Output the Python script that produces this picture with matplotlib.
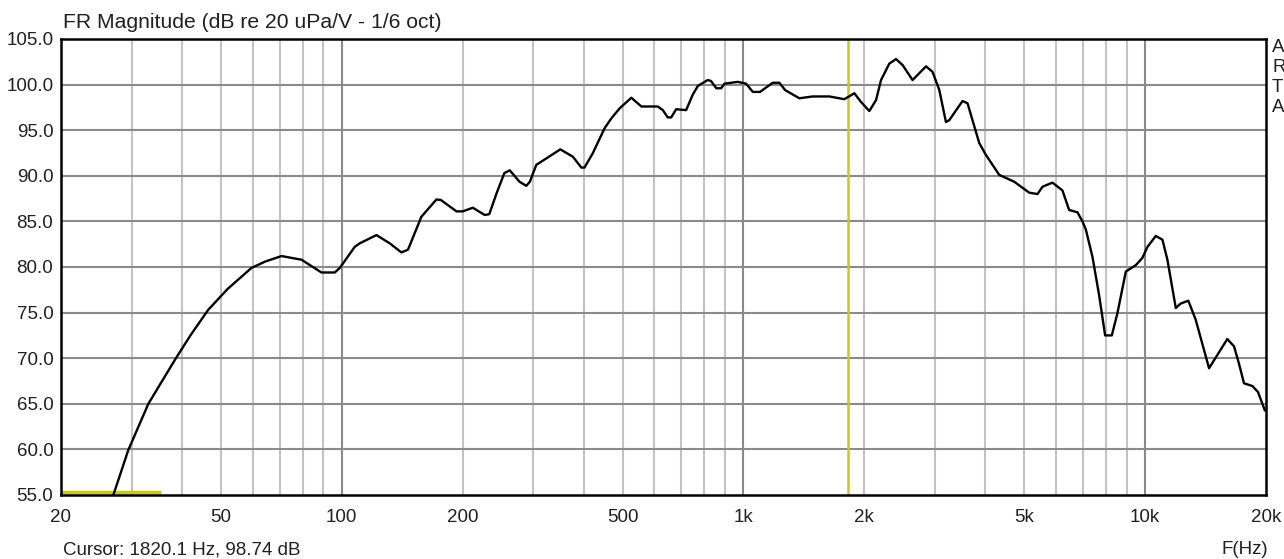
import numpy as np
import matplotlib
matplotlib.use("Agg")
import matplotlib.pyplot as plt
from matplotlib.ticker import FixedLocator, NullLocator

plt.rcParams['font.family'] = ['Liberation Sans', 'DejaVu Sans']

# FR magnitude (Hz, dB)
freq = [27.0, 29.4, 33.0, 38.4, 42.0, 46.5, 52.0, 59.6, 64.5, 70.8, 79.4, 89.0, 96.1, 98.9,
        107.7, 110.9, 122, 131.6, 140.8, 146.2, 157.8, 172, 176.5, 193, 200, 212, 227, 233,
        243, 254, 262, 277, 288, 294, 305, 323, 350, 376, 395, 402, 422, 451, 469, 492,
        526, 557, 612, 630, 648, 661, 680, 720, 748, 770, 815, 830, 856, 880, 897, 968,
        1016, 1055, 1100, 1183, 1229, 1270, 1378, 1487, 1637, 1783, 1889, 1962, 2058,
        2139, 2201, 2308, 2398, 2490, 2637, 2848, 2957, 3074, 3193, 3254, 3512, 3614,
        3864, 4014, 4334, 4723, 5147, 5397, 5553, 5880, 6226, 6471, 6786, 6984, 7121,
        7397, 7684, 7953, 8264, 8530, 8954, 9481, 9846, 10135, 10630, 11045, 11365,
        11925, 12270, 12815, 13370, 14430, 15130, 16020, 16650, 17130, 17630, 18500,
        19100, 19860]
spl = [55.0, 59.9, 65.0, 69.8, 72.5, 75.3, 77.6, 79.9, 80.6, 81.2, 80.8, 79.4, 79.4, 79.9,
       82.2, 82.6, 83.5, 82.6, 81.6, 81.9, 85.5, 87.4, 87.35, 86.1, 86.1, 86.5, 85.7, 85.8,
       88.1, 90.3, 90.6, 89.35, 88.9, 89.35, 91.2, 91.9, 92.9, 92.1, 90.9, 90.9, 92.5, 95.2,
       96.3, 97.4, 98.56, 97.6, 97.6, 97.2, 96.4, 96.4, 97.3, 97.2, 98.9, 99.85, 100.5,
       100.4, 99.6, 99.6, 100.1, 100.3, 100.1, 99.2, 99.2, 100.2, 100.2, 99.4, 98.5, 98.7,
       98.7, 98.4, 99.05, 98.1, 97.1, 98.3, 100.5, 102.3, 102.8, 102.15, 100.5, 102.0,
       101.4, 99.4, 95.9, 96.1, 98.2, 97.95, 93.6, 92.3, 90.1, 89.35, 88.15, 88.0, 88.8,
       89.25, 88.4, 86.25, 86.0, 85.0, 84.1, 81.1, 76.9, 72.5, 72.5, 74.9, 79.5, 80.2,
       81.0, 82.2, 83.4, 83.0, 80.8, 75.5, 76.0, 76.3, 74.2, 68.9, 70.35, 72.1, 71.3,
       69.4, 67.25, 66.95, 66.3, 64.3]

cursor_freq = 1820.1
cursor_db = 98.74
level_marker_f = [20, 35.5]
level_marker_db = 55.3

x_ticks = [20, 50, 100, 200, 500, 1000, 2000, 5000, 10000, 20000]
x_labels = ["20", "50", "100", "200", "500", "1k", "2k", "5k", "10k", "20k"]
y_ticks = [55, 60, 65, 70, 75, 80, 85, 90, 95, 100, 105]
decades = [100, 1000, 10000]
minor = [30, 40, 50, 60, 70, 80, 90, 200, 300, 400, 500, 600, 700, 800, 900,
         2000, 3000, 4000, 5000, 6000, 7000, 8000, 9000]
side_letters = ["A", "R", "T", "A"]

fig = plt.figure(figsize=(12.84, 5.59), dpi=100)
ax = fig.add_axes([61 / 1284, 1 - 495 / 559, (1266 - 61) / 1284, (495 - 39) / 559])
ax.set_xscale("log")
ax.set_xlim(20, 20000)
ax.set_ylim(55, 105)

light = "#c4c4c4"
dark = "#8a8a8a"
for f in minor:
    ax.axvline(f, color=light, lw=1.5, zorder=1)
for f in decades:
    ax.axvline(f, color=dark, lw=1.5, zorder=1)
for y in y_ticks[1:-1]:
    ax.axhline(y, color=dark, lw=1.5, zorder=1)

yellow = "#c8c81e"
ax.axvline(cursor_freq, color=yellow, lw=1.8, zorder=2)
ax.plot(level_marker_f, [level_marker_db, level_marker_db], color=yellow, lw=2.5,
        solid_capstyle="butt", zorder=2)

ax.plot(freq, spl, color="black", lw=1.7, zorder=3)

ax.xaxis.set_major_locator(FixedLocator(x_ticks))
ax.xaxis.set_minor_locator(NullLocator())
ax.set_xticklabels(x_labels)
ax.set_yticks(y_ticks)
ax.set_yticklabels(["%.1f" % v for v in y_ticks])
ax.tick_params(length=0, labelsize=13.5, colors="#202020", pad=5.5)
ax.tick_params(axis="x", pad=10)
for s in ax.spines.values():
    s.set_linewidth(1.8)
    s.set_color("black")

fig.text(63 / 1284, 1 - 22 / 559, "FR Magnitude (dB re 20 uPa/V - 1/6 oct)",
         fontsize=15.2, color="#202020", va="center", ha="left")
fig.text(63 / 1284, 1 - 550 / 559, "Cursor: %.1f Hz, %.2f dB" % (cursor_freq, cursor_db),
         fontsize=13.5, color="#202020", va="center", ha="left")
fig.text(1268 / 1284, 1 - 549 / 559, "F(Hz)", fontsize=13.5, color="#202020",
         va="center", ha="right")
for i, ch in enumerate(side_letters):
    fig.text(1272 / 1284, 1 - (47 + 20.3 * i) / 559, ch, fontsize=13.5, color="#202020",
             va="center", ha="left")

fig.savefig("out.png", dpi=100)
